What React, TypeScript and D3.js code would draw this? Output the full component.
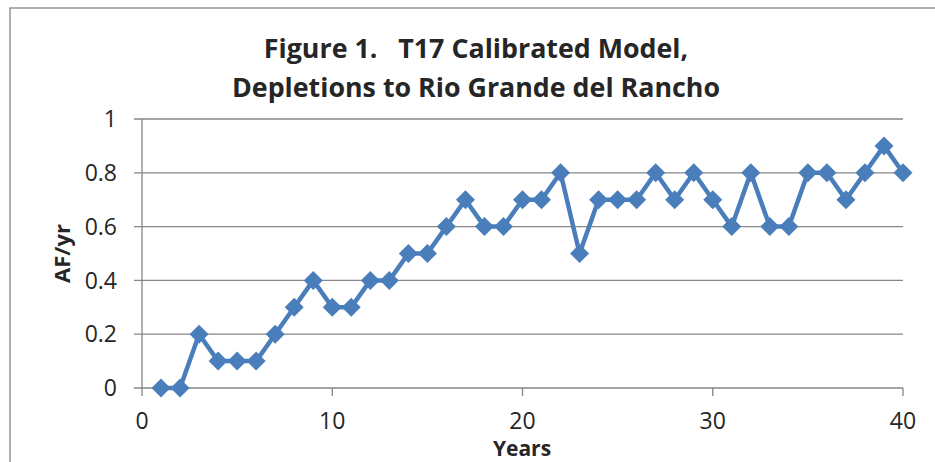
import React from 'react';
import * as d3 from 'd3';

const years = d3.range(1, 41);
const depletions = [
  0, 0, 0.2, 0.1, 0.1, 0.1, 0.2, 0.3, 0.4, 0.3,
  0.3, 0.4, 0.4, 0.5, 0.5, 0.6, 0.7, 0.6, 0.6, 0.7,
  0.7, 0.8, 0.5, 0.7, 0.7, 0.7, 0.8, 0.7, 0.8, 0.7,
  0.6, 0.8, 0.6, 0.6, 0.8, 0.8, 0.7, 0.8, 0.9, 0.8,
];
const xTicks = [0, 10, 20, 30, 40];
const yTicks = [0, 0.2, 0.4, 0.6, 0.8, 1];
const titleLines = ['Figure 1.   T17 Calibrated Model,', 'Depletions to Rio Grande del Rancho'];

const font = '"Open Sans", sans-serif';
const grey = '#868686';
const blue = '#4a7ebb';

const App = () => {
  const x = d3.scaleLinear().domain([0, 40]).range([142, 903]);
  const y = d3.scaleLinear().domain([0, 1]).range([388, 119]);

  const pts = years.map((yr, i) => ({ yr, v: depletions[i] }));
  const line = d3.line<{ yr: number; v: number }>()
    .x(d => x(d.yr))
    .y(d => y(d.v));

  const r = 9.5; // diamond half diagonal

  return (
    <svg width={935} height={462} style={{ position: 'absolute', left: 0, top: 0, background: '#fff' }}>
      <rect x={10} y={8} width={940} height={480} fill="#fff" stroke={grey} strokeWidth={1.3} />

      {titleLines.map((t, i) => (
        <text key={i} x={476} y={58 + i * 39} textAnchor="middle" fontFamily={font}
          fontWeight="bold" fontSize={26.8} fill="#262626" style={{ whiteSpace: 'pre' }}>
          {t}
        </text>
      ))}

      {/* grid lines + y ticks */}
      {yTicks.map(t => (
        <g key={t}>
          <line x1={134} x2={x(40)} y1={y(t)} y2={y(t)} stroke={grey} strokeWidth={1.3} />
          <text x={117} y={y(t)} dy="0.36em" textAnchor="end" fontFamily={font}
            fontSize={23} fill="#262626">{t}</text>
        </g>
      ))}
      <line x1={x(0)} x2={x(0)} y1={y(1)} y2={y(0)} stroke={grey} strokeWidth={1.3} />

      {/* x ticks */}
      {xTicks.map(t => (
        <g key={t}>
          <line x1={x(t)} x2={x(t)} y1={y(0)} y2={y(0) + 8} stroke={grey} strokeWidth={1.3} />
          <text x={x(t)} y={429} textAnchor="middle" fontFamily={font}
            fontSize={23} fill="#262626">{t}</text>
        </g>
      ))}

      <path d={line(pts) || ''} fill="none" stroke={blue} strokeWidth={4.5} strokeLinejoin="round" />
      {pts.map(d => (
        <path key={d.yr}
          d={`M${x(d.yr)},${y(d.v) - r}L${x(d.yr) + r},${y(d.v)}L${x(d.yr)},${y(d.v) + r}L${x(d.yr) - r},${y(d.v)}Z`}
          fill={blue} />
      ))}

      <text transform={`translate(70,${(y(0) + y(1)) / 2}) rotate(-90)`} textAnchor="middle"
        fontFamily={font} fontWeight="bold" fontSize={22} fill="#262626">AF/yr</text>
      <text x={522} y={456} textAnchor="middle" fontFamily={font} fontWeight="bold"
        fontSize={21} fill="#262626">Years</text>
    </svg>
  );
};

export default App;
